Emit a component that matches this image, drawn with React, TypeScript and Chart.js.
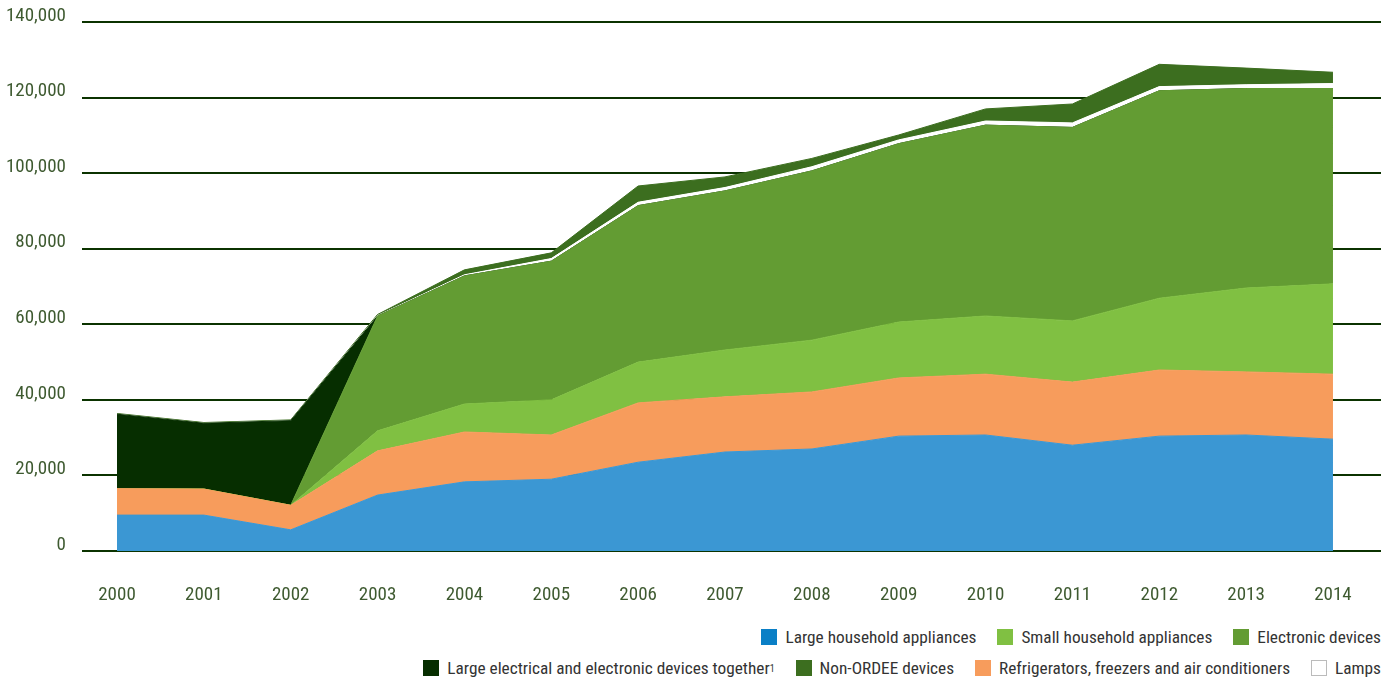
import React, { useEffect, useRef } from "react";
import { Chart, registerables } from "chart.js";

Chart.register(...registerables);

const years = ["2000", "2001", "2002", "2003", "2004", "2005", "2006", "2007", "2008", "2009", "2010", "2011", "2012", "2013", "2014"];

const largeHousehold = [9500, 9500, 5600, 14800, 18300, 19000, 23500, 26200, 27000, 30400, 30700, 28000, 30400, 30700, 29600];
const refrigerators = [7000, 6900, 6500, 11700, 13200, 11700, 15700, 14600, 15100, 15400, 16100, 16700, 17500, 16700, 17200];
const smallHousehold = [0, 0, 0, 5300, 7400, 9300, 10800, 12400, 13700, 14800, 15400, 16200, 19000, 22200, 23900];
const electronic = [0, 0, 0, 30400, 33900, 36700, 41400, 42100, 44800, 47200, 50500, 51200, 54900, 52800, 51700];
const largeTogether = [19700, 17400, 22400, 0, 0, 0, 0, 0, 0, 0, 0, 0, 0, 0, 0];
const lamps = [0, 0, 0, 100, 300, 700, 900, 900, 1100, 1000, 1100, 1200, 1100, 1000, 1300];
const nonOrdee = [200, 200, 200, 300, 1300, 1500, 4300, 2800, 2200, 1300, 3200, 5000, 5900, 4400, 3000];

const yTicks = [0, 20000, 40000, 60000, 80000, 100000, 120000, 140000];

const FONT = "'Roboto Condensed', 'DejaVu Sans Condensed', 'Liberation Sans Narrow', 'Arial Narrow', sans-serif";
const TICK_COLOR = "#3e5a30";

const series = [
  { label: "Large household appliances", data: largeHousehold, color: "#3b97d3", legend: "#0a7fc6" },
  { label: "Refrigerators, freezers and air conditioners", data: refrigerators, color: "#f79c5c", legend: "#f79c5c" },
  { label: "Small household appliances", data: smallHousehold, color: "#80c042", legend: "#80c042" },
  { label: "Electronic devices", data: electronic, color: "#639c33", legend: "#639c33" },
  { label: "Large electrical and electronic devices together¹", data: largeTogether, color: "#062e00", legend: "#062e00" },
  { label: "Lamps", data: lamps, color: "#ffffff", legend: "#ffffff" },
  { label: "Non-ORDEE devices", data: nonOrdee, color: "#3c6e1f", legend: "#3c6e1f" },
];

const legendRow1 = ["Large household appliances", "Small household appliances", "Electronic devices"];
const legendRow2 = [
  "Large electrical and electronic devices together¹",
  "Non-ORDEE devices",
  "Refrigerators, freezers and air conditioners",
  "Lamps",
];

function LegendItem({ name }: { name: string }) {
  const s = series.find((x) => x.label === name)!;
  const isLamps = name === "Lamps";
  const text = name.endsWith("¹") ? (
    <span>
      {name.slice(0, -1)}
      <sup style={{ fontSize: 10, verticalAlign: "top", position: "relative", top: 1 }}>1</sup>
    </span>
  ) : (
    <span>{name}</span>
  );
  return (
    <div style={{ display: "flex", alignItems: "center", marginLeft: 21 }}>
      <div
        style={{
          width: isLamps ? 14 : 16,
          height: isLamps ? 14 : 16,
          background: s.legend,
          border: isLamps ? "1px solid #bbbbbb" : "none",
          marginRight: 8,
        }}
      />
      {text}
    </div>
  );
}

export default function App() {
  const ref = useRef<HTMLCanvasElement | null>(null);

  useEffect(() => {
    document.body.style.margin = "0";
    const ctx = ref.current!;
    const chart = new Chart(ctx, {
      type: "line",
      data: {
        datasets: series.map((s, i) => ({
          label: s.label,
          data: s.data.map((v, j) => ({ x: j, y: v })),
          backgroundColor: s.color,
          borderColor: s.color,
          borderWidth: 1,
          pointRadius: 0,
          fill: i === 0 ? "origin" : "-1",
          tension: 0,
        })),
      },
      options: {
        animation: false,
        responsive: false,
        maintainAspectRatio: false,
        layout: { padding: { top: 22, right: 16, left: 0, bottom: 0 } },
        plugins: {
          legend: { display: false },
          tooltip: { enabled: false },
        },
        scales: {
          x: {
            type: "linear",
            min: -0.403,
            max: 14.553,
            afterBuildTicks: (scale: any) => {
              scale.ticks = years.map((_, i) => ({ value: i }));
            },
            afterFit: (scale: any) => {
              scale.height = 69;
              scale.paddingLeft = 0;
              scale.paddingRight = 0;
            },
            grid: { display: false, drawTicks: false },
            border: { display: false },
            ticks: {
              padding: 33,
              color: TICK_COLOR,
              font: { family: FONT, size: 19 },
              callback: (v: any) => years[v as number] ?? "",
              maxRotation: 0,
              autoSkip: false,
            },
          },
          y: {
            stacked: true,
            min: 0,
            max: 140000,
            afterBuildTicks: (scale: any) => {
              scale.ticks = yTicks.map((v) => ({ value: v }));
            },
            afterFit: (scale: any) => {
              scale.width = 82;
              scale.paddingTop = 0;
              scale.paddingBottom = 0;
            },
            grid: { color: "#0b3300", lineWidth: 2, drawTicks: false },
            border: { display: false },
            ticks: {
              padding: 16,
              labelOffset: -6,
              color: TICK_COLOR,
              font: { family: FONT, size: 19 },
              callback: (v: any) => Number(v).toLocaleString("en-US"),
            },
          },
        },
      },
    });
    return () => chart.destroy();
  }, []);

  return (
    <div style={{ position: "relative", width: 1397, height: 683, fontFamily: FONT }}>
      <canvas ref={ref} width={1397} height={620} style={{ position: "absolute", left: 0, top: 0, width: 1397, height: 620 }} />
      <div
        style={{
          position: "absolute",
          right: 16,
          top: 627,
          display: "flex",
          justifyContent: "flex-end",
          fontSize: 17.3,
          color: "#333333",
          lineHeight: "20px",
          whiteSpace: "nowrap",
        }}
      >
        {legendRow1.map((n) => (
          <LegendItem key={n} name={n} />
        ))}
      </div>
      <div
        style={{
          position: "absolute",
          right: 16,
          top: 658,
          display: "flex",
          justifyContent: "flex-end",
          fontSize: 17.3,
          color: "#333333",
          lineHeight: "20px",
          whiteSpace: "nowrap",
        }}
      >
        {legendRow2.map((n) => (
          <LegendItem key={n} name={n} />
        ))}
      </div>
    </div>
  );
}
